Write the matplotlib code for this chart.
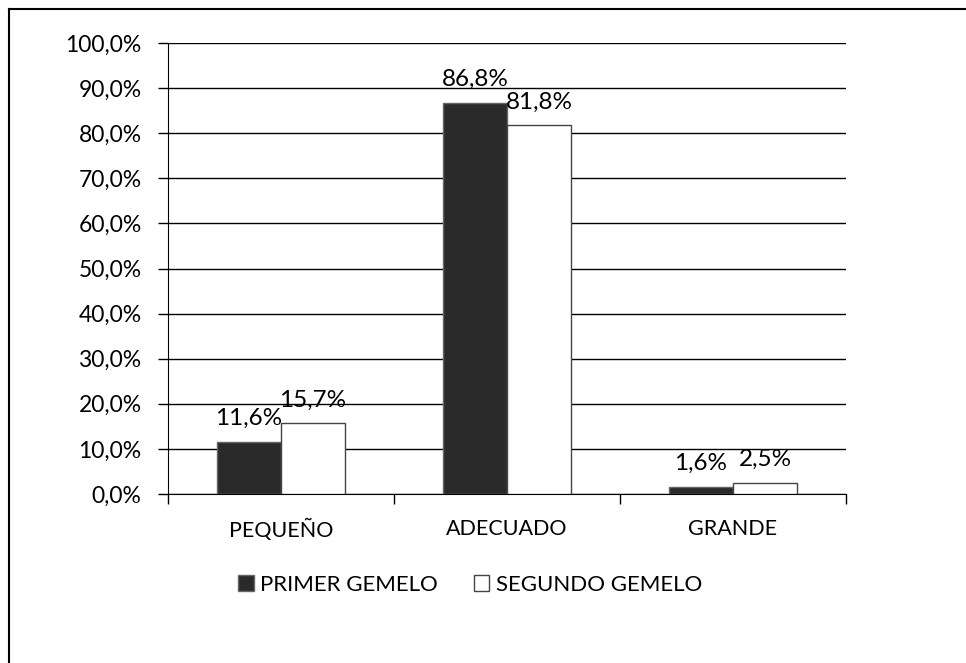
import matplotlib
matplotlib.use("Agg")
import matplotlib.pyplot as plt
from matplotlib.lines import Line2D
import numpy as np

categories = ["PEQUEÑO", "ADECUADO", "GRANDE"]
series_names = ["PRIMER GEMELO", "SEGUNDO GEMELO"]
primer = [11.6, 86.8, 1.6]
segundo = [15.7, 81.8, 2.5]

plt.rcParams['font.family'] = ['Lato', 'DejaVu Sans']

W, H = 966, 663
fig = plt.figure(figsize=(W/100, H/100), dpi=100)
# outer frame (top and left edges visible)
fig.add_artist(Line2D([9/W, 1.0], [1-9/H, 1-9/H], transform=fig.transFigure, color='black', linewidth=1.5))
fig.add_artist(Line2D([9/W, 9/W], [0.0, 1-9/H], transform=fig.transFigure, color='black', linewidth=1.5))

ax = fig.add_axes([168/W, 1-494/H, (846-168)/W, (494-43)/H])

x = np.arange(len(categories))
w = 0.284
b1 = ax.bar(x - w/2, primer, w, color='#2a2a2a', edgecolor='#666666', linewidth=1, label=series_names[0], zorder=3)
b2 = ax.bar(x + w/2, segundo, w, color='white', edgecolor='#444444', linewidth=1, label=series_names[1], zorder=3)

for bars, vals in ((b1, primer), (b2, segundo)):
    for rect, v in zip(bars, vals):
        ax.annotate(f"{v:.1f}%".replace('.', ','),
                    (rect.get_x() + rect.get_width()/2, v), xytext=(0, 9), textcoords='offset points',
                    ha='center', va='bottom', fontsize=17.5, zorder=4)

ax.set_xlim(-0.5, 2.5)
ax.set_ylim(0, 100)
yt = np.arange(0, 101, 10)
ax.set_yticks(yt)
ax.set_yticklabels([f"{v:.1f}%".replace('.', ',') for v in yt], fontsize=16.5)
ax.yaxis.grid(True, color='black', linewidth=1, zorder=0)
ax.set_axisbelow(True)

ax.set_xticks(x)
ax.set_xticklabels(categories, fontsize=15.5)
ax.tick_params(axis='x', length=0, pad=18)
ax.set_xticks([-0.5, 0.5, 1.5, 2.5], minor=True)
ax.tick_params(axis='x', which='minor', length=7, width=1, color='black')
ax.tick_params(axis='y', length=7, width=1, color='black', pad=12)

for s in ['top', 'right']:
    ax.spines[s].set_visible(False)
ax.spines['left'].set_color('black')
ax.spines['bottom'].set_color('black')

fig.legend(handles=[b1, b2], labels=series_names, loc='center', bbox_to_anchor=(470/W, 1-585/H),
           ncol=2, frameon=False, fontsize=16, handlelength=0.7, handleheight=0.7,
           handletextpad=0.3, columnspacing=1.6)

fig.savefig("out.png", dpi=100)
